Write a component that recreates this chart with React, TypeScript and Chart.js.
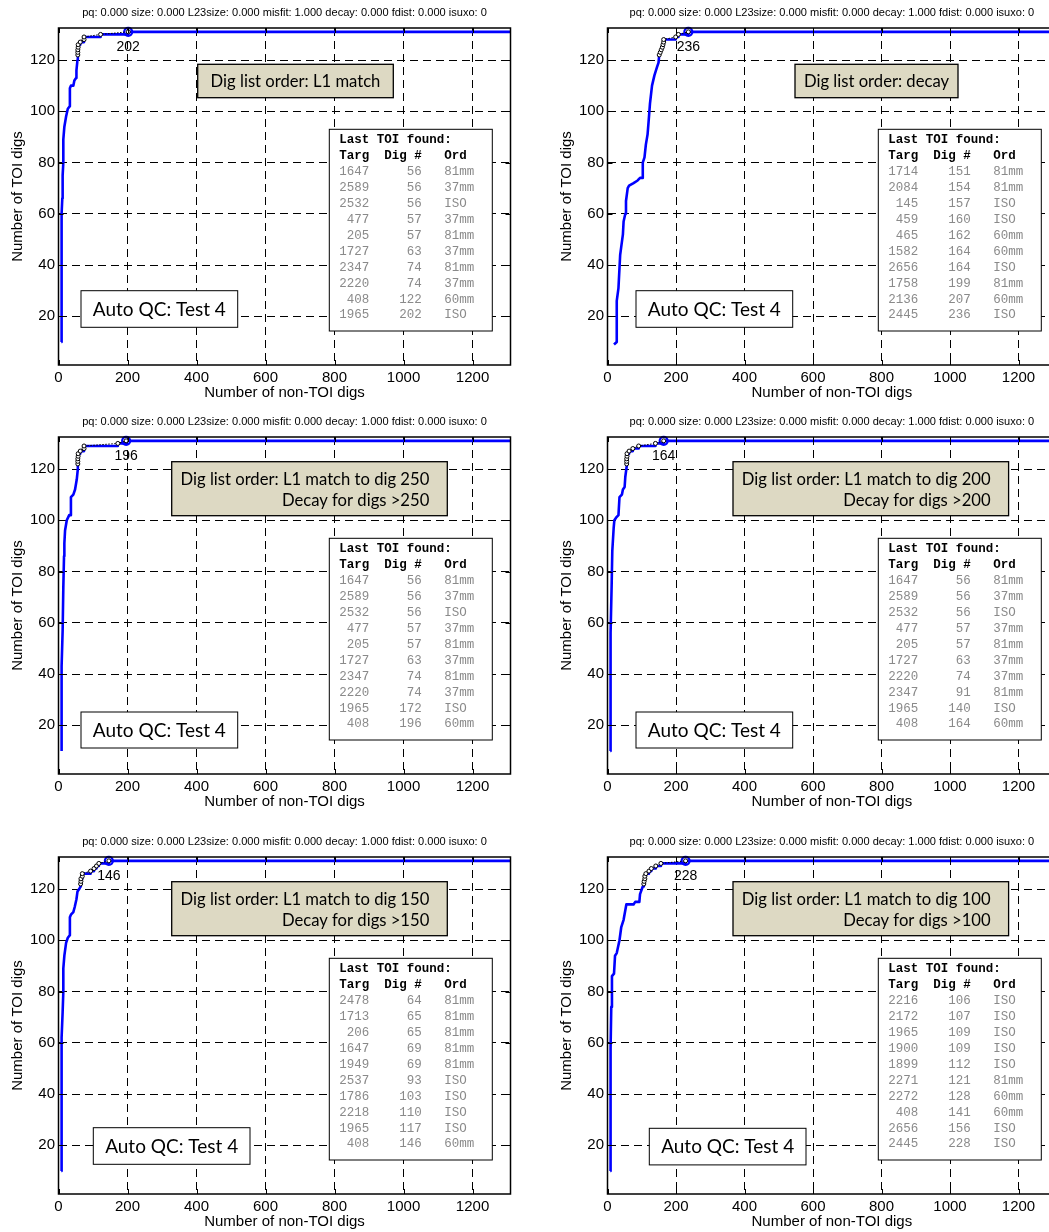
import React, { useEffect, useRef } from "react";
import { Chart, registerables } from "chart.js";

Chart.register(...registerables);

// ---------- axes ----------
const xTicks = [0, 200, 400, 600, 800, 1000, 1200];
const yTicks = [20, 40, 60, 80, 100, 120];
const xMin = 0;
const xMax = 1310;
const yMin = 1;
const yMax = 132.5;
const xTitle = "Number of non-TOI digs";
const yTitle = "Number of TOI digs";
const qcLabel = "Auto QC: Test 4";

const titleMisfit = "pq: 0.000 size: 0.000 L23size: 0.000 misfit: 1.000 decay: 0.000 fdist: 0.000 isuxo: 0";
const titleDecay = "pq: 0.000 size: 0.000 L23size: 0.000 misfit: 0.000 decay: 1.000 fdist: 0.000 isuxo: 0";

// TOI count reached at each of the last ten TOI digs
const lastToiCount = [122, 123, 124, 125, 126, 127, 128, 129, 130, 131];

// ---------- panel 1: L1 match ----------
const l1MatchX = [8, 8, 10, 11, 12, 14, 14, 17, 22, 27, 33, 33, 36, 43, 46, 51, 52, 55, 56, 56, 57, 57, 63, 63, 74, 74, 122, 122, 202, 202, 1310];
const l1MatchY = [10, 50, 60, 66, 75, 80, 89, 94, 98, 101, 102, 109, 110, 110, 112, 113, 116, 120, 121, 124, 124, 126, 126, 127, 127, 129, 129, 130, 130, 131, 131];
const l1MatchTarg = [1647, 2589, 2532, 477, 205, 1727, 2347, 2220, 408, 1965];
const l1MatchDig = [56, 56, 56, 57, 57, 63, 74, 74, 122, 202];
const l1MatchOrd = ["81mm", "37mm", "ISO", "37mm", "81mm", "37mm", "81mm", "37mm", "60mm", "ISO"];

// ---------- panel 2: decay ----------
const decayX = [19, 27, 27, 32, 37, 40, 45, 47, 52, 54, 59, 63, 76, 88, 95, 102, 103, 108, 112, 117, 120, 124, 130, 137, 144, 149, 151, 154, 157, 160, 162, 164, 164, 199, 199, 207, 207, 236, 236, 1310];
const decayY = [9, 10, 26, 31, 44, 47, 52, 57, 60, 65, 70, 71, 72, 73, 74, 74, 80, 82, 87, 91, 96, 103, 110, 114, 117, 119, 122, 123, 124, 125, 126, 127, 128, 128, 129, 129, 130, 130, 131, 131];
const decayTarg = [1714, 2084, 145, 459, 465, 1582, 2656, 1758, 2136, 2445];
const decayDig = [151, 154, 157, 160, 162, 164, 164, 199, 207, 236];
const decayOrd = ["81mm", "81mm", "ISO", "ISO", "60mm", "60mm", "ISO", "81mm", "60mm", "ISO"];

// ---------- panel 3: L1 match to dig 250 ----------
const to250X = [9, 9, 12, 14, 16, 17, 19, 24, 31, 35, 36, 43, 48, 53, 56, 56, 57, 57, 63, 63, 74, 74, 172, 172, 196, 196, 1310];
const to250Y = [10, 43, 57, 74, 86, 91, 96, 100, 102, 102, 109, 110, 112, 116, 120, 124, 124, 126, 126, 127, 127, 129, 129, 130, 130, 131, 131];
const to250Targ = [1647, 2589, 2532, 477, 205, 1727, 2347, 2220, 1965, 408];
const to250Dig = [56, 56, 56, 57, 57, 63, 74, 74, 172, 196];
const to250Ord = ["81mm", "37mm", "ISO", "37mm", "81mm", "37mm", "81mm", "37mm", "ISO", "60mm"];

// ---------- panel 4: L1 match to dig 200 ----------
const to200X = [8, 8, 10, 12, 14, 18, 20, 25, 32, 35, 42, 45, 50, 52, 56, 56, 57, 57, 63, 63, 74, 74, 91, 91, 140, 140, 164, 164, 1310];
const to200Y = [10, 43, 56, 74, 88, 97, 100, 101, 102, 109, 110, 112, 113, 117, 121, 124, 124, 126, 126, 127, 127, 128, 128, 129, 129, 130, 130, 131, 131];
const to200Targ = [1647, 2589, 2532, 477, 205, 1727, 2220, 2347, 1965, 408];
const to200Dig = [56, 56, 56, 57, 57, 63, 74, 91, 140, 164];
const to200Ord = ["81mm", "37mm", "ISO", "37mm", "81mm", "37mm", "37mm", "81mm", "ISO", "60mm"];

// ---------- panel 5: L1 match to dig 150 ----------
const to150X = [8, 8, 10, 12, 14, 14, 17, 22, 27, 33, 33, 36, 43, 47, 52, 55, 60, 64, 64, 65, 65, 69, 69, 93, 93, 103, 103, 110, 110, 117, 117, 146, 146, 1310];
const to150Y = [10, 50, 62, 72, 80, 89, 94, 99, 101, 102, 109, 110, 111, 113, 116, 119, 120, 121, 122, 122, 124, 124, 126, 126, 127, 127, 128, 128, 129, 129, 130, 130, 131, 131];
const to150Targ = [2478, 1713, 206, 1647, 1949, 2537, 1786, 2218, 1965, 408];
const to150Dig = [64, 65, 65, 69, 69, 93, 103, 110, 117, 146];
const to150Ord = ["81mm", "81mm", "81mm", "81mm", "81mm", "ISO", "ISO", "ISO", "ISO", "60mm"];

// ---------- panel 6: L1 match to dig 100 ----------
const to100X = [8, 8, 10, 11, 13, 19, 22, 27, 35, 40, 47, 55, 76, 81, 93, 95, 103, 106, 106, 107, 107, 109, 109, 112, 112, 121, 121, 128, 128, 141, 141, 156, 156, 228, 228, 1310];
const to100Y = [10, 40, 58, 74, 86, 87, 94, 95, 100, 105, 108, 114, 114, 115, 115, 118, 121, 121, 122, 122, 123, 123, 125, 125, 126, 126, 127, 127, 128, 128, 129, 129, 130, 130, 131, 131];
const to100Targ = [2216, 2172, 1965, 1900, 1899, 2271, 2272, 408, 2656, 2445];
const to100Dig = [106, 107, 109, 109, 112, 121, 128, 141, 156, 228];
const to100Ord = ["ISO", "ISO", "ISO", "ISO", "ISO", "81mm", "60mm", "60mm", "ISO", "ISO"];

// ---------- layout / styles ----------
const FONT_AX = "'Liberation Sans', Arial, Helvetica, sans-serif";
const FONT_BOX = "Lato, 'Open Sans', 'DejaVu Sans', sans-serif";
const FONT_MONO = "'Liberation Mono', 'Courier New', monospace";
const BLUE = "#0000ff";
const TAN = "#ddd9c3";
const CANVAS_W = 530;
const CANVAS_H = 420;

type Box = { x: number; y: number; w: number; h: number };
type PanelCfg = {
  left: number;
  top: number;
  padRight: number;
  title: string;
  curveX: number[];
  curveY: number[];
  targ: number[];
  dig: number[];
  ord: string[];
  orderLines: string[];
  orderBox: Box;
  qcBox: Box;
};

const panels: PanelCfg[] = [
  {
    left: 0, top: 0, padRight: 19.5, title: titleMisfit,
    curveX: l1MatchX, curveY: l1MatchY, targ: l1MatchTarg, dig: l1MatchDig, ord: l1MatchOrd,
    orderLines: ["Dig list order: L1 match"],
    orderBox: { x: 197.7, y: 64.3, w: 195.6, h: 33.4 },
    qcBox: { x: 81, y: 290.7, w: 156.7, h: 36.6 },
  },
  {
    left: 549, top: 0, padRight: 22.8, title: titleDecay,
    curveX: decayX, curveY: decayY, targ: decayTarg, dig: decayDig, ord: decayOrd,
    orderLines: ["Dig list order: decay"],
    orderBox: { x: 246, y: 64.3, w: 163, h: 33.4 },
    qcBox: { x: 87, y: 290.7, w: 156.7, h: 36.6 },
  },
  {
    left: 0, top: 409, padRight: 19.5, title: titleDecay,
    curveX: to250X, curveY: to250Y, targ: to250Targ, dig: to250Dig, ord: to250Ord,
    orderLines: ["Dig list order: L1 match to dig 250", "Decay for digs >250"],
    orderBox: { x: 171.7, y: 52.7, w: 275.6, h: 54 },
    qcBox: { x: 81, y: 303, w: 156.7, h: 36 },
  },
  {
    left: 549, top: 409, padRight: 22.8, title: titleDecay,
    curveX: to200X, curveY: to200Y, targ: to200Targ, dig: to200Dig, ord: to200Ord,
    orderLines: ["Dig list order: L1 match to dig 200", "Decay for digs >200"],
    orderBox: { x: 184, y: 52.7, w: 275.6, h: 54 },
    qcBox: { x: 87, y: 303, w: 156.7, h: 36 },
  },
  {
    left: 0, top: 829, padRight: 19.5, title: titleDecay,
    curveX: to150X, curveY: to150Y, targ: to150Targ, dig: to150Dig, ord: to150Ord,
    orderLines: ["Dig list order: L1 match to dig 150", "Decay for digs >150"],
    orderBox: { x: 171.7, y: 52.7, w: 275.6, h: 54 },
    qcBox: { x: 93.3, y: 298.7, w: 156.7, h: 36.6 },
  },
  {
    left: 549, top: 829, padRight: 22.8, title: titleDecay,
    curveX: to100X, curveY: to100Y, targ: to100Targ, dig: to100Dig, ord: to100Ord,
    orderLines: ["Dig list order: L1 match to dig 100", "Decay for digs >100"],
    orderBox: { x: 184, y: 52.7, w: 275.6, h: 54 },
    qcBox: { x: 100.3, y: 299.3, w: 156.7, h: 36.6 },
  },
];

function fitSize(ctx: CanvasRenderingContext2D, text: string, family: string, weight: string, target: number): number {
  const base = 20;
  ctx.font = `${weight} ${base}px ${family}`;
  const w = ctx.measureText(text).width || 1;
  return (base * target) / w;
}

function makeDecor(p: PanelCfg) {
  return {
    id: "panelDecor",
    afterDraw(chart: any) {
      const ctx: CanvasRenderingContext2D = chart.ctx;
      const a = chart.chartArea;
      const xs = chart.scales.x;
      const ys = chart.scales.y;
      ctx.save();

      // inward tick marks
      ctx.strokeStyle = "#000";
      ctx.lineWidth = 1;
      ctx.beginPath();
      for (const v of xTicks) {
        const px = Math.round(xs.getPixelForValue(v)) + 0.5;
        ctx.moveTo(px, a.bottom); ctx.lineTo(px, a.bottom - 5);
        ctx.moveTo(px, a.top); ctx.lineTo(px, a.top + 5);
      }
      for (const v of yTicks) {
        const py = Math.round(ys.getPixelForValue(v)) + 0.5;
        ctx.moveTo(a.left, py); ctx.lineTo(a.left + 5, py);
        ctx.moveTo(a.right, py); ctx.lineTo(a.right - 5, py);
      }
      ctx.stroke();

      // plot box
      ctx.lineWidth = 1.5;
      ctx.strokeRect(a.left, a.top, a.right - a.left, a.bottom - a.top);

      ctx.fillStyle = "#000";
      ctx.textAlign = "center";
      ctx.textBaseline = "middle";
      const cx = (a.left + a.right) / 2;

      // title
      const ts = fitSize(ctx, titleMisfit, FONT_AX, "", 405);
      ctx.font = `${ts}px ${FONT_AX}`;
      ctx.fillText(p.title, cx, a.top - 15);

      // axis titles
      ctx.font = `15px ${FONT_AX}`;
      ctx.fillText(xTitle, cx, a.bottom + 28);
      ctx.save();
      ctx.translate(18, (a.top + a.bottom) / 2);
      ctx.rotate(-Math.PI / 2);
      ctx.fillText(yTitle, 0, 0);
      ctx.restore();

      // final label
      const n = p.dig.length - 1;
      const fx = xs.getPixelForValue(p.dig[n]);
      const fy = ys.getPixelForValue(lastToiCount[n]);
      ctx.font = `14px ${FONT_AX}`;
      ctx.fillText(String(p.dig[n]), fx, fy + 15);

      // dig list order box
      const ob = p.orderBox;
      ctx.fillStyle = TAN;
      ctx.fillRect(ob.x, ob.y, ob.w, ob.h);
      ctx.lineWidth = 1.3;
      ctx.strokeRect(ob.x, ob.y, ob.w, ob.h);
      const bs = fitSize(ctx, "Dig list order: L1 match", FONT_BOX, "", 170);
      ctx.font = `${bs}px ${FONT_BOX}`;
      ctx.fillStyle = "#000";
      if (p.orderLines.length === 1) {
        ctx.textAlign = "center";
        ctx.fillText(p.orderLines[0], ob.x + ob.w / 2, ob.y + ob.h / 2 + 0.5);
      } else {
        ctx.textAlign = "right";
        ctx.fillText(p.orderLines[0], ob.x + ob.w - 18, ob.y + 18.3);
        ctx.fillText(p.orderLines[1], ob.x + ob.w - 18, ob.y + 39);
      }

      // Auto QC box
      const qb = p.qcBox;
      ctx.fillStyle = "#fff";
      ctx.fillRect(qb.x, qb.y, qb.w, qb.h);
      ctx.lineWidth = 1;
      ctx.strokeRect(qb.x, qb.y, qb.w, qb.h);
      const qs = fitSize(ctx, qcLabel, FONT_BOX, "", 133);
      ctx.font = `${qs}px ${FONT_BOX}`;
      ctx.fillStyle = "#000";
      ctx.textAlign = "center";
      ctx.fillText(qcLabel, qb.x + qb.w / 2, qb.y + qb.h / 2 + 0.5);

      // table of last TOI found
      const tb = { x: 329.3, y: a.top + 101.3, w: 163, h: 201.7 };
      ctx.fillStyle = "#fff";
      ctx.fillRect(tb.x, tb.y, tb.w, tb.h);
      ctx.lineWidth = 1;
      ctx.strokeStyle = "#000";
      ctx.strokeRect(tb.x, tb.y, tb.w, tb.h);
      ctx.textAlign = "left";
      const tx = tb.x + 10;
      let ty = tb.y + 10.9;
      const pitch = 15.9;
      ctx.font = `bold 12.5px ${FONT_MONO}`;
      ctx.fillStyle = "#000";
      ctx.fillText("Last TOI found:", tx, ty);
      ty += pitch;
      ctx.fillText("Targ  Dig #   Ord", tx, ty);
      ctx.font = `12.5px ${FONT_MONO}`;
      ctx.fillStyle = "#8a8a8a";
      for (let i = 0; i < p.targ.length; i++) {
        ty += pitch;
        const row = String(p.targ[i]).padStart(4) + String(p.dig[i]).padStart(7) + "   " + p.ord[i];
        ctx.fillText(row, tx, ty);
      }

      ctx.restore();
    },
  };
}

function Panel({ p }: { p: PanelCfg }) {
  const ref = useRef<HTMLCanvasElement>(null);
  useEffect(() => {
    const canvas = ref.current;
    if (!canvas) return;
    const chart = new Chart(canvas, {
      type: "scatter",
      data: {
        datasets: [
          {
            label: "Last TOI found",
            data: p.dig.map((d, i) => ({ x: d, y: lastToiCount[i] })),
            showLine: true,
            borderColor: "#000",
            borderWidth: 1,
            borderDash: [1.5, 1.5],
            pointRadius: 2,
            pointBorderWidth: 1,
            pointBorderColor: "#000",
            pointBackgroundColor: "#fff",
            order: 1,
          } as any,
          {
            label: "Final",
            data: [{ x: p.dig[p.dig.length - 1], y: lastToiCount[lastToiCount.length - 1] }],
            showLine: false,
            pointRadius: 4,
            pointBorderWidth: 2.2,
            pointBorderColor: BLUE,
            pointBackgroundColor: "rgba(0,0,0,0)",
            order: 2,
            clip: false,
          } as any,
          {
            label: "TOI digs",
            data: p.curveX.map((x, i) => ({ x, y: p.curveY[i] })),
            showLine: true,
            borderColor: BLUE,
            borderWidth: 2.6,
            borderJoinStyle: "round",
            pointRadius: 0,
            tension: 0,
            order: 3,
          } as any,
        ],
      },
      options: {
        animation: false,
        responsive: false,
        devicePixelRatio: 1,
        events: [],
        layout: { padding: { left: 0, right: p.padRight, top: 28, bottom: 0 } },
        plugins: {
          legend: { display: false },
          tooltip: { enabled: false },
          title: { display: false },
        },
        scales: {
          x: {
            type: "linear",
            min: xMin,
            max: xMax,
            afterBuildTicks: (s: any) => {
              s.ticks = xTicks.map((v) => ({ value: v }));
            },
            afterFit: (s: any) => {
              s.height = CANVAS_H - 28 - 337;
            },
            grid: { color: "#000", lineWidth: 1, drawTicks: false },
            border: { display: false, dash: [8, 5] },
            ticks: {
              color: "#000",
              font: { family: FONT_AX, size: 15 },
              padding: 4,
              maxRotation: 0,
              autoSkip: false,
              callback: (v: any) => String(v),
            },
          },
          y: {
            type: "linear",
            min: yMin,
            max: yMax,
            afterBuildTicks: (s: any) => {
              s.ticks = yTicks.map((v) => ({ value: v }));
            },
            afterFit: (s: any) => {
              s.width = 58.5;
            },
            grid: { color: "#000", lineWidth: 1, drawTicks: false },
            border: { display: false, dash: [8, 5] },
            ticks: {
              color: "#000",
              font: { family: FONT_AX, size: 15 },
              padding: 3.5,
              autoSkip: false,
              callback: (v: any) => String(v),
            },
          },
        },
      } as any,
      plugins: [makeDecor(p)],
    });
    return () => chart.destroy();
  }, [p]);
  return (
    <canvas
      ref={ref}
      width={CANVAS_W}
      height={CANVAS_H}
      style={{ position: "absolute", left: p.left, top: p.top, width: CANVAS_W, height: CANVAS_H }}
    />
  );
}

export default function App() {
  useEffect(() => {
    document.body.style.margin = "0";
  }, []);
  return (
    <div
      style={{
        position: "absolute",
        left: 0,
        top: 0,
        width: 1049,
        height: 1232,
        overflow: "hidden",
        background: "#fff",
      }}
    >
      {panels.map((p, i) => (
        <Panel key={i} p={p} />
      ))}
    </div>
  );
}
